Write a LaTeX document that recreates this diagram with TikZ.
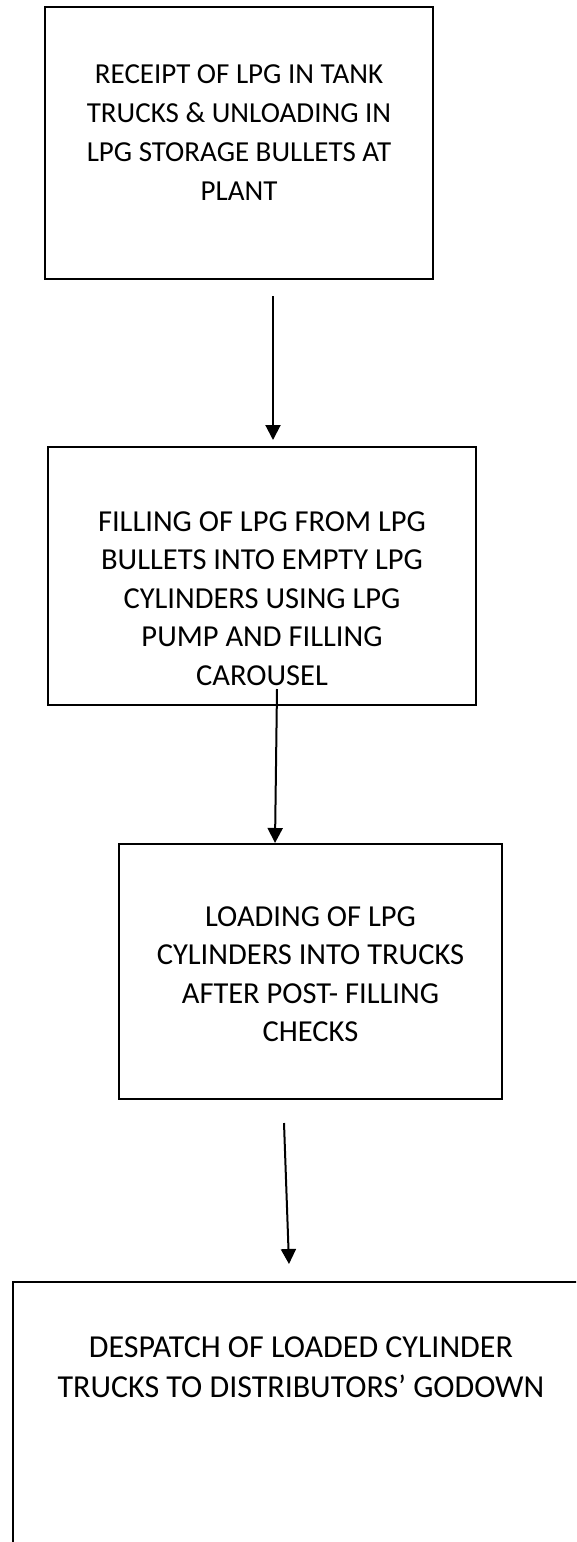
\documentclass[tikz,border=0pt]{standalone}
\usepackage{fontspec}
\setmainfont{Carlito}
\usepackage{tikz}
\usetikzlibrary{arrows.meta,positioning}
\tikzset{
  PB/.style={rectangle,draw,line width=2pt,inner sep=0pt},
  PT/.style={align=center,inner sep=0pt,
             font=\fontsize{29}{39.3}\selectfont},
  arr/.style={-{Triangle[length=15pt,width=15pt]},line width=2pt}
}

\begin{document}
\begin{tikzpicture}[x=1pt,y=-1pt]
  \clip (0,0) rectangle (576,1542);

  \node[PB,minimum width=388pt,minimum height=272pt] (receipt) at (239,143) {};
  \node[PT,below=58pt of receipt.north] (receipttxt) {RECEIPT OF LPG IN TANK\\TRUCKS \& UNLOADING IN\\LPG STORAGE BULLETS AT\\PLANT};

  \node[PB,minimum width=428pt,minimum height=258pt] (filling) at (262,576) {};
  \node[PT,font=\fontsize{30.5}{38.6}\selectfont,below=65pt of filling.north] (fillingtxt) {FILLING OF LPG FROM LPG\\BULLETS INTO EMPTY LPG\\CYLINDERS USING LPG\\PUMP AND FILLING\\CAROUSEL};

  \node[PB,minimum width=383pt,minimum height=255pt] (loading) at (310.5,971.5) {};
  \node[PT,font=\fontsize{30.5}{38.6}\selectfont,below=63pt of loading.north] (loadingtxt) {LOADING OF LPG\\CYLINDERS INTO TRUCKS\\AFTER POST- FILLING\\CHECKS};

  \node[PB,minimum width=576pt,minimum height=300pt] (despatch) at (301,1432) {};
  \node[PT,font=\fontsize{32}{40}\selectfont,below=56pt of despatch.north] (despatchtxt) {DESPATCH OF LOADED CYLINDER\\TRUCKS TO DISTRIBUTORS’ GODOWN};

  \draw[arr] ([xshift=34pt,yshift=-16pt]receipt.south) -- ([xshift=11pt,yshift=6pt]filling.north);
  \draw[arr] ([xshift=15pt,yshift=17pt]filling.south) -- ([xshift=-35.5pt]loading.north);
  \draw[arr] ([xshift=-26.5pt,yshift=-23pt]loading.south) -- ([xshift=-12pt,yshift=17pt]despatch.north);
\end{tikzpicture}
\end{document}
